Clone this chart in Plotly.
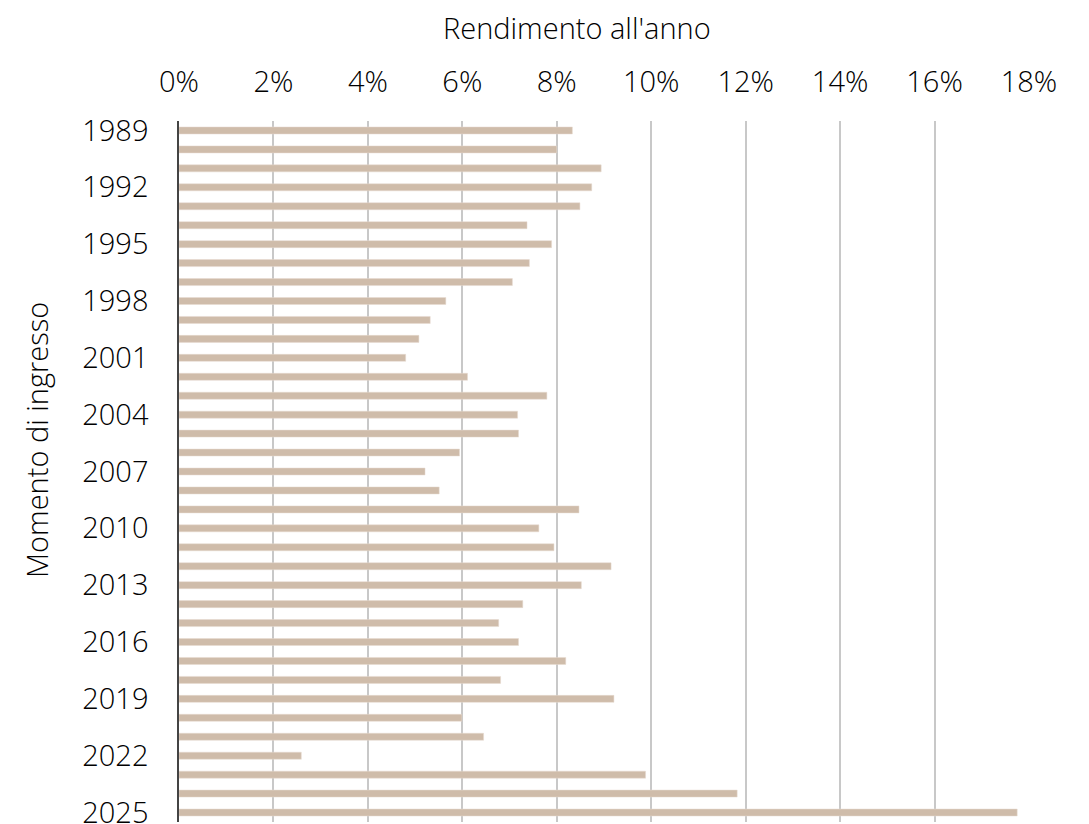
import plotly.graph_objects as go

years = [str(y) for y in range(1989, 2026)]
returns = [8.33, 8.00, 8.94, 8.74, 8.49, 7.37, 7.89, 7.42, 7.06, 5.65,
           5.32, 5.08, 4.80, 6.11, 7.79, 7.17, 7.19, 5.94, 5.21, 5.51,
           8.47, 7.62, 7.94, 9.15, 8.52, 7.28, 6.77, 7.19, 8.19, 6.81,
           9.21, 5.99, 6.45, 2.59, 9.88, 11.82, 17.75]
x_ticks = [0, 2, 4, 6, 8, 10, 12, 14, 16, 18]
x_tick_labels = [f"{v}%" for v in x_ticks]
y_tick_labels = years[::3]

FONT = "Open Sans"
FS = 29
TXT = "#000000"
W = 350

fig = go.Figure(go.Bar(
    x=returns, y=years, orientation="h",
    marker=dict(color="#cfbcaa", line=dict(color="#e6dbd0", width=0.5)),
    width=0.37,
))

fig.update_layout(
    width=1081, height=816,
    margin=dict(l=171, r=60, t=113, b=2),
    paper_bgcolor="white", plot_bgcolor="white",
    showlegend=False,
    font=dict(family=FONT, size=FS, color=TXT, weight=W),
    xaxis=dict(
        side="top", range=[0, 18], tickvals=x_ticks, ticktext=x_tick_labels,
        showgrid=True, gridcolor="#c8c8c8", gridwidth=1.5,
        zeroline=False, showline=False, ticks="",
        ticklabelstandoff=22, automargin=False,
        tickfont=dict(size=FS, family=FONT, color=TXT, weight=W),
    ),
    yaxis=dict(
        type="category", autorange="reversed",
        tickvals=y_tick_labels, ticktext=y_tick_labels,
        showgrid=False, zeroline=False,
        showline=True, linecolor="#444444", linewidth=1.5,
        ticks="", ticklabelstandoff=23, automargin=False,
        tickfont=dict(size=FS, family=FONT, color=TXT, weight=W),
    ),
    annotations=[
        dict(text="Rendimento all'anno", xref="paper", yref="paper",
             x=(577 - 179) / 850, y=1, yshift=94, showarrow=False,
             font=dict(size=FS, family=FONT, color=TXT, weight=W),
             xanchor="center", yanchor="middle", borderpad=0),
        dict(text="Momento di ingresso", xref="paper", yref="paper",
             x=0, xshift=-143, y=(822 - 440) / 701, textangle=-90, showarrow=False,
             font=dict(size=FS, family=FONT, color=TXT, weight=W),
             xanchor="center", yanchor="middle"),
    ],
)

fig.write_html("out.html")
